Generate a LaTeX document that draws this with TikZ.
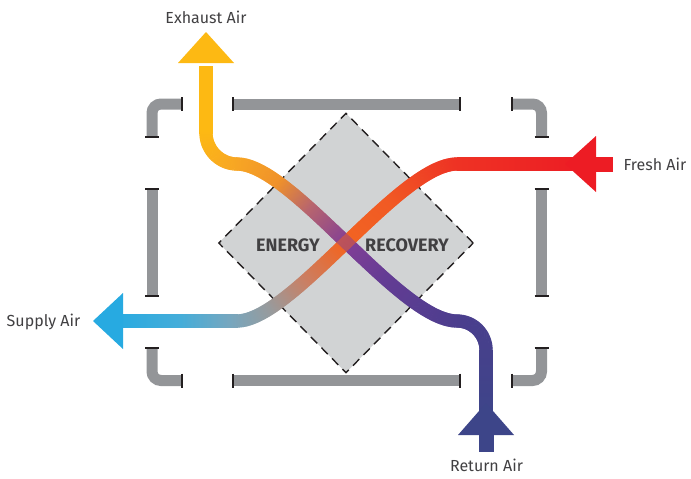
\documentclass[tikz,border=0pt]{standalone}
\usepackage{fontspec}
\setmainfont{Fira Sans}
\usetikzlibrary{shapes.geometric,decorations.markings}
\definecolor{framegray}{HTML}{939598}
\definecolor{coregray}{HTML}{D1D3D4}
\definecolor{coreline}{HTML}{231F20}
\definecolor{ink}{HTML}{414042}
% exhaust line, from the return end
\definecolor{rtncol}{HTML}{3D4589}
\definecolor{ea}{HTML}{4A3E8D}
\definecolor{eb}{HTML}{643C94}
\definecolor{ec}{HTML}{823F96}
\definecolor{ed}{HTML}{B8656E}
\definecolor{ee}{HTML}{F0922A}
\definecolor{ef}{HTML}{F8A823}
\definecolor{exhcol}{HTML}{FDB913}
% supply line, from the fresh end
\definecolor{frscol}{HTML}{ED1C24}
\definecolor{sa}{HTML}{EE3324}
\definecolor{sb}{HTML}{F15A24}
\definecolor{sc}{HTML}{F26522}
\definecolor{sd}{HTML}{C98066}
\definecolor{se}{HTML}{9A9A9B}
\definecolor{sf}{HTML}{74A7C0}
\definecolor{sg}{HTML}{45ADD9}
\definecolor{supcol}{HTML}{27AAE1}
\colorlet{pc}{black}
\newcommand\exstops{0/rtncol/0.22/ea, 0.22/ea/0.4/eb, 0.4/eb/0.5/ec, 0.5/ec/0.6/ed, 0.6/ed/0.68/ee, 0.68/ee/0.78/ef, 0.78/ef/0.87/exhcol, 0.87/exhcol/1.01/exhcol}
\newcommand\supstops{0/frscol/0.25/sa, 0.25/sa/0.4/sb, 0.4/sb/0.52/sc, 0.52/sc/0.62/sd, 0.62/sd/0.7/se, 0.7/se/0.79/sf, 0.79/sf/0.88/sg, 0.88/sg/1.01/supcol}
\newcommand\setpipecolor[1]{%
  \pgfmathsetmacro\pipef{\pgfkeysvalueof{/pgf/decoration/mark info/distance from start}/\pgfdecoratedpathlength}%
  \foreach \a/\ca/\b/\cb in #1 {%
    \ifdim\pipef pt<\a pt\relax\else
      \ifdim\pipef pt>\b pt\relax\else
        \pgfmathsetmacro\pipepct{(\pipef-\a)/(\b-\a)*100}%
        \xglobal\colorlet{pc}{\cb!\pipepct!\ca}%
      \fi
    \fi}}
\newcommand\exhaustpath{(rtn) -- (486,350) .. controls (486,334) and (473,321) .. (457,321)
    .. controls (400,321) and (292,164) .. (237,164) .. controls (220,164) and (206,150) .. (206,133) -- (exh)}
\tikzset{
frame/.style={draw=framegray,line width=11pt},
tick/.style={draw=coreline,line width=1.8pt},
core/.style={diamond,draw=coreline,fill=coregray,dash pattern=on 9pt off 6pt,line width=1.4pt,minimum width=255pt,minimum height=260pt,inner sep=0pt},
word/.style={font=\fontsize{18}{21}\selectfont\bfseries,text=ink},
airtext/.style={font=\fontsize{16}{19}\selectfont,text=ink},
pipe/.style={decorate,decoration={markings,mark=between positions 0 and 1 step 0.8pt with {\setpipecolor{#1}\fill[pc] (-0.7pt,-6.6pt) rectangle (0.7pt,6.6pt);}}},
}
\begin{document}
\begin{tikzpicture}[x=1pt,y=-1pt]
  \useasboundingbox (0,0) rectangle (691,479);
  % housing
  \draw[frame,rounded corners=9pt] (152,137) -- (152,104) -- (182,104);
  \draw[frame,rounded corners=9pt] (512,104) -- (541.5,104) -- (541.5,137);
  \draw[frame,rounded corners=9pt] (152,348) -- (152,380.5) -- (182,380.5);
  \draw[frame,rounded corners=9pt] (512,380.5) -- (541.5,380.5) -- (541.5,348);
  \draw[frame] (233,104) -- (460,104) (233,380.5) -- (460,380.5);
  \draw[frame] (152,189) -- (152,296) (541.5,189) -- (541.5,296);
  \foreach \x/\y in {182/104,233/104,460/104,512/104,182/380.5,233/380.5,460/380.5,512/380.5}
    \draw[tick] (\x,\y-7) -- (\x,\y+7);
  \foreach \x/\y in {152/137,541.5/137,152/189,152/296,541.5/189,541.5/296,152/348,541.5/348}
    \draw[tick] (\x-7,\y) -- (\x+7,\y);

  \node[core] (core) at (346,243) {};
  \node[word] (energy) at (288,245) {ENERGY};
  \node[word] (recovery) at (407,245) {RECOVERY};

  \coordinate (rtn) at (486,422);
  \coordinate (exh) at (206,66);
  \coordinate (frs) at (584,164);
  \coordinate (sup) at (120,321);

  % air lines
  \path[pipe=\exstops] \exhaustpath;
  \path[pipe=\supstops] (frs) -- (457,164) .. controls (400,164) and (292,321) .. (237,321) -- (sup);
  % crossing blend
  \begin{scope}
    \clip (core.center) circle (22pt);
    \begin{scope}[transparency group,opacity=0.5]
      \path[pipe=\exstops] \exhaustpath;
    \end{scope}
  \end{scope}

  % arrow heads
  \fill[exhcol] (178,63) -- (206,32) -- (234,63) -- cycle;
  \fill[rtncol] (458,435) -- (486,403) -- (514,435) -- cycle;
  \fill[rtncol] (478.5,434) rectangle (493.5,452);
  \fill[frscol] (596,136) -- (565,164) -- (596,192) -- cycle;
  \fill[frscol] (595,156.5) rectangle (613,171.5);
  \fill[supcol] (123,293) -- (93,321) -- (123,349) -- cycle;

  \node[airtext] (exhaust) at (206,17) {Exhaust Air};
  \node[airtext] (fresh) at (655,164) {Fresh Air};
  \node[airtext] (supply) at (43.5,322) {Supply Air};
  \node[airtext] (return) at (486.5,465) {Return Air};
\end{tikzpicture}
\end{document}
